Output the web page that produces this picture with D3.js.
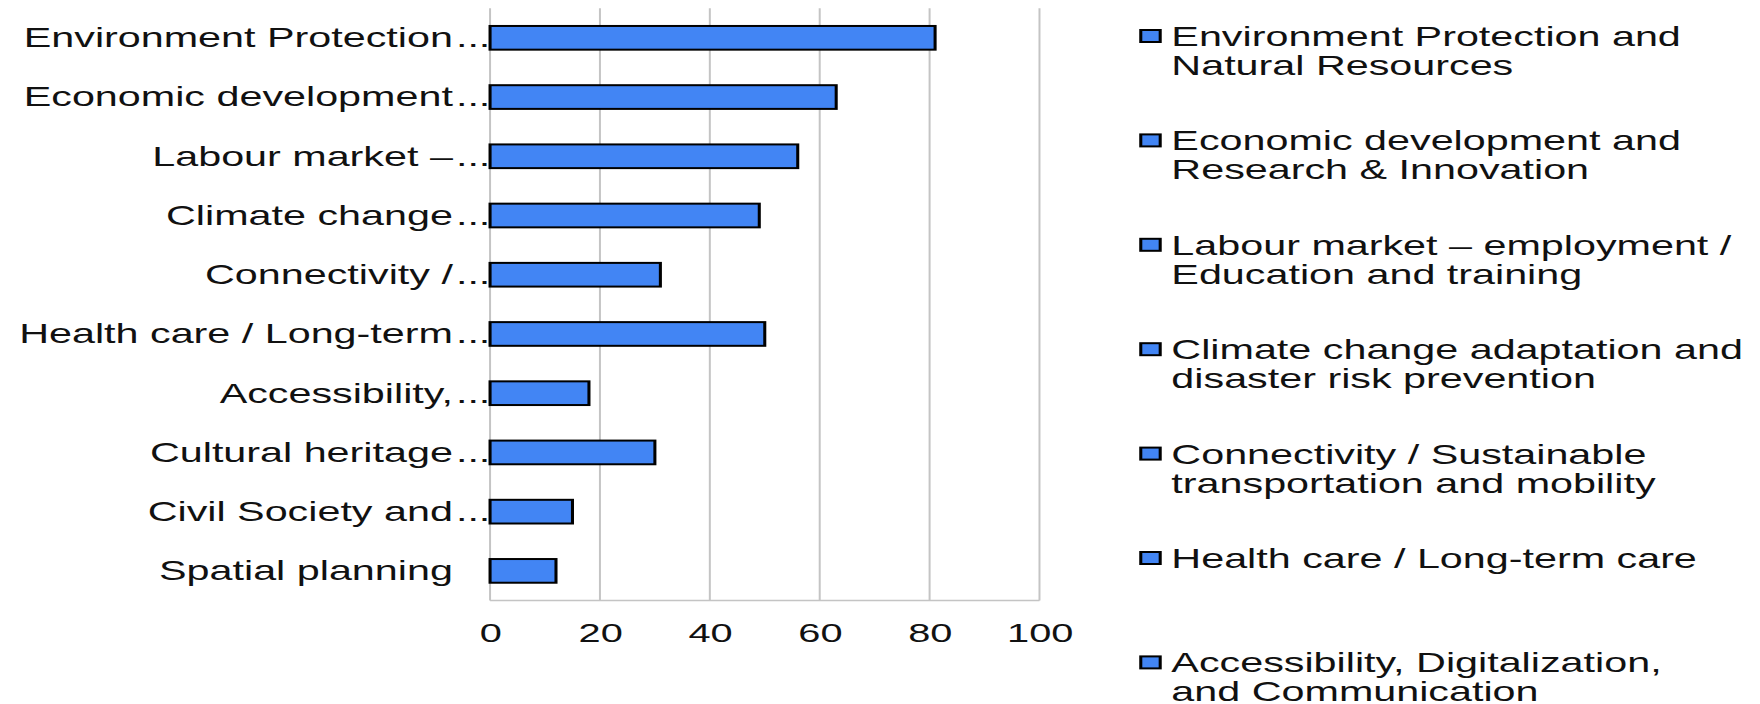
<!DOCTYPE html>
<html>
<head>
<meta charset="utf-8">
<script src="https://cdn.jsdelivr.net/npm/d3@7"></script>
<style>
  body { margin: 0; background: #fff; }
  svg text { font-family: "Liberation Sans", Arial, sans-serif; fill: #111; }
</style>
</head>
<body>
<svg id="chart"></svg>
<script>
// axis labels as they appear (cut short in the original)
const categories = [
    "Environment Protection...",
    "Economic development...",
    "Labour market –...",
    "Climate change...",
    "Connectivity /...",
    "Health care / Long-term...",
    "Accessibility,...",
    "Cultural heritage...",
    "Civil Society and...",
    "Spatial planning"
];
const values = [81, 63, 56, 49, 31, 50, 18, 30, 15, 12];
const xTicks = [0, 20, 40, 60, 80, 100];

// legend runs off the bottom of the picture, only these entries show
const legendLines = [
    ["Environment Protection and", "Natural Resources"],
    ["Economic development and", "Research & Innovation"],
    ["Labour market – employment /", "Education and training"],
    ["Climate change adaptation and", "disaster risk prevention"],
    ["Connectivity / Sustainable", "transportation and mobility"],
    ["Health care / Long-term care"],
    ["Accessibility, Digitalization,", "and Communication"]
];

const width = 1760;
const height = 704;
// the source image is stretched sideways, so draw in a narrower box and let the svg stretch it
const stretch = 1.53;
const viewWidth = width / stretch;

const plot = { left: 320.3, right: 679.4, top: 8.2, bottom: 600.5 };
const barColor = "#4285f4";
const gridColor = "#c4c4c4";

const svg = d3.select("#chart")
    .attr("width", width)
    .attr("height", height)
    .attr("viewBox", `0 0 ${viewWidth} ${height}`)
    .attr("preserveAspectRatio", "none");

const x = d3.scaleLinear()
    .domain([0, 100])
    .range([plot.left, plot.right]);

const y = d3.scaleBand()
    .domain(categories)
    .range([plot.top, plot.bottom])
    .paddingInner(0.6)
    .paddingOuter(0.3);

// vertical gridlines
svg.append("g")
    .selectAll("line")
    .data(xTicks)
    .join("line")
    .attr("x1", d => x(d))
    .attr("x2", d => x(d))
    .attr("y1", plot.top)
    .attr("y2", plot.bottom)
    .attr("stroke", gridColor)
    .attr("stroke-width", 1.3);

// bottom frame line
svg.append("line")
    .attr("x1", plot.left)
    .attr("x2", plot.right)
    .attr("y1", plot.bottom)
    .attr("y2", plot.bottom)
    .attr("stroke", gridColor)
    .attr("stroke-width", 1.3);

svg.append("g")
    .selectAll("rect")
    .data(values)
    .join("rect")
    .attr("x", x(0))
    .attr("y", (d, i) => y(categories[i]))
    .attr("width", d => x(d) - x(0))
    .attr("height", y.bandwidth())
    .attr("fill", barColor)
    .attr("stroke", "#000")
    .attr("stroke-width", 2);

// x axis tick labels
const xAxis = svg.append("g")
    .attr("transform", `translate(0,${plot.bottom})`)
    .call(d3.axisBottom(x).tickValues(xTicks).tickSize(0).tickPadding(23));
xAxis.select(".domain").remove();
xAxis.selectAll("text")
    .style("font-size", "26px")
    .style("font-family", "\"Liberation Sans\", Arial, sans-serif")
    .attr("fill", "#111");

// category labels: the text is right aligned, a trailing "..." hangs past it toward the axis
const labelRight = 296;
const labels = svg.append("g")
    .selectAll("g")
    .data(categories)
    .join("g")
    .attr("transform", d => `translate(0,${y(d) + y.bandwidth() / 2})`);

labels.append("text")
    .attr("x", labelRight)
    .attr("dy", "0.35em")
    .attr("text-anchor", "end")
    .style("font-size", "27px")
    .text(d => d.endsWith("...") ? d.slice(0, -3) : d);

labels.filter(d => d.endsWith("..."))
    .append("text")
    .attr("x", labelRight + 2)
    .attr("dy", "0.35em")
    .style("font-size", "27px")
    .text("...");

// legend
const legendX = 745.6;
const legendTop = 30;
const legendStep = 104.4;
const lineHeight = 29;

const legend = svg.append("g")
    .selectAll("g")
    .data(legendLines)
    .join("g")
    .attr("transform", (d, i) => `translate(${legendX},${legendTop + i * legendStep})`);

legend.append("rect")
    .attr("width", 12.7)
    .attr("height", 12)
    .attr("fill", barColor)
    .attr("stroke", "#000")
    .attr("stroke-width", 2);

legend.append("text")
    .attr("x", 20)
    .attr("y", 16)
    .style("font-size", "27px")
    .selectAll("tspan")
    .data(d => d)
    .join("tspan")
    .attr("x", 20)
    .attr("dy", (d, i) => i == 0 ? 0 : lineHeight)
    .text(d => d);
</script>
</body>
</html>
